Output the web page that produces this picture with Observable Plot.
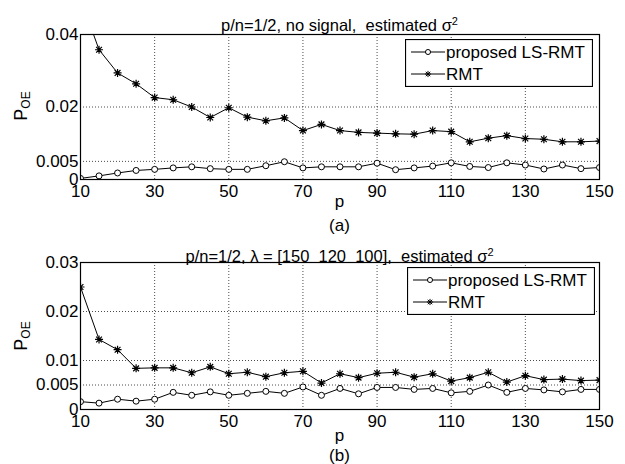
<!DOCTYPE html>
<html><head><meta charset="utf-8">
<script src="https://cdn.jsdelivr.net/npm/d3@7"></script>
<script src="https://cdn.jsdelivr.net/npm/@observablehq/plot@0.6"></script>
<style>
body{margin:0;background:#fff;font-family:"Liberation Sans",Arial,sans-serif;color:#000;}
#wrap{position:relative;width:625px;height:464px;overflow:hidden;background:#fff;}
.abs{position:absolute;white-space:nowrap;}
.title{font-size:16.5px;text-align:center;line-height:18px;}
.lab{font-size:17px;text-align:center;line-height:14px;}
.ylab{font-size:18px;width:80px;height:20px;line-height:20px;text-align:center;transform:rotate(-90deg);}
.ylab sub{font-size:12px;vertical-align:-3px;}
sup{font-size:11px;vertical-align:6px;}
</style></head><body><div id="wrap"></div>
<script>
const p = [10,15,20,25,30,35,40,45,50,55,60,65,70,75,80,85,90,95,100,105,110,115,120,125,130,135,140,145,150];
const xTicks = [10,30,50,70,90,110,130,150];

// panel (a): p/n=1/2, no signal
const aLS  = [0.0003,0.0010,0.0018,0.0025,0.0028,0.0032,0.0035,0.0030,0.0028,0.0028,0.0038,0.0049,0.0032,0.0035,0.0035,0.0035,0.0045,0.0027,0.0032,0.0037,0.0046,0.0036,0.0033,0.0046,0.0040,0.0029,0.0040,0.0030,0.0033];
const aRMT = [0.0500,0.0358,0.0294,0.0264,0.0226,0.0220,0.0200,0.0171,0.0198,0.0172,0.0162,0.0170,0.0135,0.0152,0.0135,0.0130,0.0128,0.0126,0.0125,0.0135,0.0132,0.0104,0.0114,0.0121,0.0113,0.0111,0.0104,0.0104,0.0106];
const aYTicks = [0,0.005,0.02,0.04];
const aYDomain = [0,0.04];

// panel (b): p/n=1/2, lambda = [150 120 100]
const bLS  = [0.0016,0.0013,0.0021,0.0017,0.0021,0.0035,0.0029,0.0036,0.0029,0.0033,0.0037,0.0033,0.0046,0.0029,0.0043,0.0032,0.0045,0.0045,0.0041,0.0043,0.0034,0.0037,0.0050,0.0035,0.0043,0.0040,0.0036,0.0041,0.0041];
const bRMT = [0.0250,0.0143,0.0122,0.0084,0.0085,0.0085,0.0075,0.0087,0.0073,0.0076,0.0067,0.0075,0.0078,0.0054,0.0073,0.0065,0.0074,0.0076,0.0066,0.0073,0.0058,0.0065,0.0076,0.0056,0.0069,0.0061,0.0062,0.0059,0.0060];
const bYTicks = [0,0.005,0.01,0.02,0.03];
const bYDomain = [0,0.03];

const seriesNames = ["proposed LS-RMT","RMT"];

// MATLAB-style '*' marker: plus + cross (8 spokes)
const star8 = {
  draw(ctx, size) {
    const r = Math.sqrt(size / Math.PI);
    const d = r * 0.72;
    ctx.moveTo(-r, 0); ctx.lineTo(r, 0);
    ctx.moveTo(0, -r); ctx.lineTo(0, r);
    ctx.moveTo(-d, -d); ctx.lineTo(d, d);
    ctx.moveTo(-d, d); ctx.lineTo(d, -d);
  }
};

function panel(ls, rmt, yDomain, yTicks, mt, mb) {
  const dLS = p.map((x,i)=>({p:x, v:ls[i]}));
  const dRMT = p.map((x,i)=>({p:x, v:rmt[i]}));
  const grid = {stroke:"#000", strokeOpacity:0.7, strokeDasharray:"1,2", strokeWidth:1};
  return Plot.plot({
    width:625, height:232, marginLeft:80, marginRight:26, marginTop:mt, marginBottom:mb,
    style:{fontFamily:"Liberation Sans, Arial, sans-serif", fontSize:"17px", color:"black", background:"transparent", overflow:"visible"},
    x:{domain:[10,150], ticks:xTicks, tickSize:0, tickPadding:5, label:null, tickFormat:d=>String(d)},
    y:{domain:yDomain, ticks:yTicks, tickSize:0, tickPadding:2, label:null, tickFormat:d=>String(d)},
    marks:[
      Plot.ruleX(xTicks, grid),
      Plot.ruleY(yTicks, grid),
      Plot.line(dRMT, {x:"p", y:"v", stroke:"black", strokeWidth:1, clip:true}),
      Plot.dot(dRMT, {x:"p", y:"v", symbol:star8, r:4, stroke:"black", strokeWidth:1.2, clip:true}),
      Plot.line(dLS, {x:"p", y:"v", stroke:"black", strokeWidth:1, clip:true}),
      Plot.dot(dLS, {x:"p", y:"v", symbol:"circle", r:3, stroke:"black", fill:"white", strokeWidth:1, clip:true}),
      Plot.frame({stroke:"black", strokeWidth:1.2})
    ]
  });
}

function legendBox(left, top, w, h) {
  const ns = "http://www.w3.org/2000/svg";
  const svg = document.createElementNS(ns, "svg");
  svg.setAttribute("width", w); svg.setAttribute("height", h);
  svg.setAttribute("class","abs");
  svg.style.left = left+"px"; svg.style.top = top+"px";
  const sym = [d3.symbol(d3.symbolCircle, 20)(), d3.symbol(star8, 30)()];
  let html = `<rect x="0.5" y="0.5" width="${w-1}" height="${h-1}" fill="white" stroke="black" stroke-width="1.2"/>`;
  seriesNames.forEach((name,i)=>{
    const cy = 13 + i*22;
    html += `<line x1="6" x2="40" y1="${cy}" y2="${cy}" stroke="black" stroke-width="1"/>`;
    html += `<path d="${sym[i]}" transform="translate(23,${cy})" fill="${i==0?'white':'none'}" stroke="black" stroke-width="1"/>`;
    html += `<text x="41" y="${cy}" dy="0.36em" font-size="17" font-family="Liberation Sans, Arial, sans-serif">${name}</text>`;
  });
  svg.innerHTML = html;
  return svg;
}

const wrap = document.getElementById("wrap");
function add(el, left, top) { el.classList.add("abs"); el.style.left=left+"px"; el.style.top=top+"px"; wrap.appendChild(el); return el; }
function div(cls, html, left, top, width) { const d=document.createElement("div"); d.className=cls; d.innerHTML=html; if(width) d.style.width=width+"px"; return add(d,left,top); }

const svgA = panel(aLS, aRMT, aYDomain, aYTicks, 34, 53);
add(svgA, 0, 0);
const svgB = panel(bLS, bRMT, bYDomain, bYTicks, 30, 55);
add(svgB, 0, 232);

div("title", "p/n=1/2, no signal,&nbsp; estimated &sigma;<sup>2</sup>", 80, 12, 519);
div("title", "p/n=1/2, &lambda; = [150&nbsp; 120&nbsp; 100],&nbsp; estimated &sigma;<sup>2</sup>", 80, 243, 519);
div("lab", "p", 80, 195, 519);
div("lab", "(a)", 80, 219, 519);
div("lab", "p", 80, 429, 519);
div("lab", "(b)", 80, 449, 519);
div("ylab", "P<sub>OE</sub>", -19, 96);
div("ylab", "P<sub>OE</sub>", -19, 326);

wrap.appendChild(legendBox(405, 39, 188, 48));
wrap.appendChild(legendBox(407, 267, 188, 48));
</script>
</body></html>
